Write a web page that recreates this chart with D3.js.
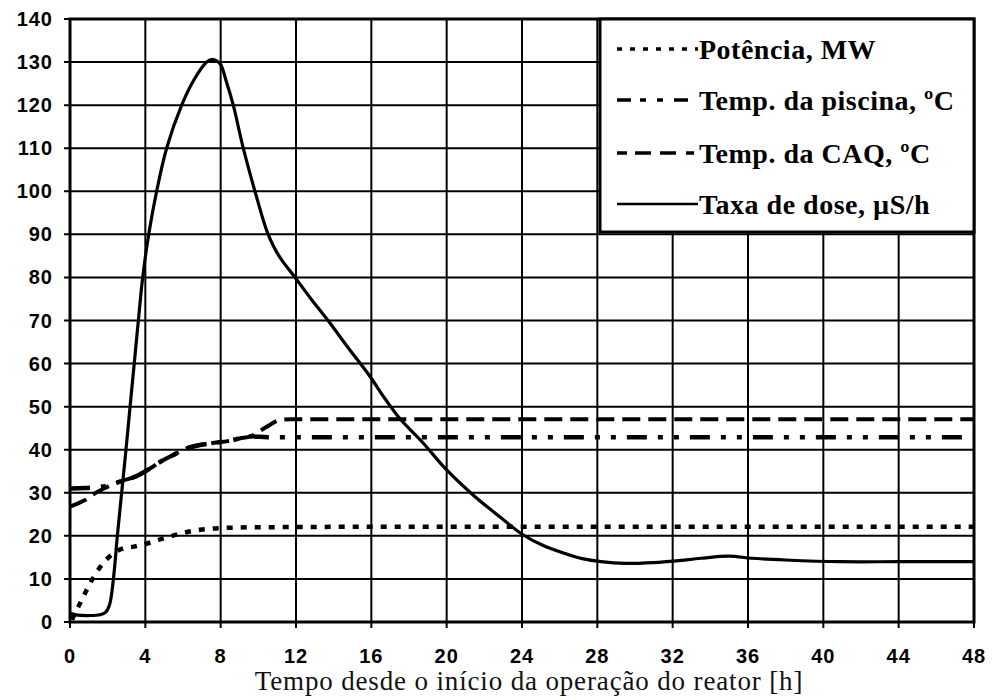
<!DOCTYPE html>
<html>
<head>
<meta charset="utf-8">
<script src="https://cdn.jsdelivr.net/npm/d3@7"></script>
<style>
  html, body { margin: 0; padding: 0; background: #fff; }
  svg { display: block; }
</style>
</head>
<body>
<svg id="chart" width="992" height="700"></svg>
<script>
// ---------- data ----------
const xTicks = [0, 4, 8, 12, 16, 20, 24, 28, 32, 36, 40, 44, 48];
const yTicks = [0, 10, 20, 30, 40, 50, 60, 70, 80, 90, 100, 110, 120, 130, 140];

const seriesNames = ["Potência, MW", "Temp. da piscina, ºC", "Temp. da CAQ, ºC", "Taxa de dose, µS/h"];

// [hours, value]
const power = [[0.1,0.5],[0.45,3.6],[0.8,6.7],[1.24,10.3],[1.68,13.2],[2.2,15.6],[2.83,17.1],[3.4,17.5],[3.9,18],[4.96,19.4],[5.93,20.6],[6.9,21.4],[7.97,21.8],[10,22],[16,22.1],[48,22.1]];
const poolTemp = [[0,31],[0.8,31.1],[1.5,31.3],[2.1,31.8],[2.8,32.8],[3.5,33.8],[4.2,35.5],[4.8,37.2],[5.5,38.8],[6.2,40.3],[6.9,41.1],[7.5,41.5],[8.5,42.1],[9,42.6],[9.6,43.1],[10.5,42.9],[12,42.9],[48,42.9]];
const caqTemp = [[0,26.8],[0.4,27.5],[0.8,28.3],[1.3,29.8],[1.8,31],[2.3,32],[2.8,32.8],[3.5,33.8],[4.2,35.5],[4.8,37.2],[5.5,38.8],[6.2,40.3],[6.9,41.1],[7.5,41.5],[8.5,42.1],[9,42.6],[9.6,43.1],[10.4,45.2],[11.1,46.8],[11.8,47.1],[48,47.1]];
const doseRate = [[0,2],[0.4,1.6],[1,1.5],[1.6,1.7],[1.9,2.3],[2.1,4],[2.3,9.8],[2.51,19.8],[2.74,29.9],[2.97,39.9],[3.19,50],[3.41,60],[3.63,70],[3.86,80],[4.18,90],[4.6,100],[5.13,110],[5.93,120],[6.6,126],[7.26,130],[7.6,130.6],[7.97,129.6],[8.3,125.5],[8.67,120],[9.2,110],[9.82,100],[10.45,90.8],[10.8,87.3],[11.2,84.3],[11.95,80],[12.8,75],[13.7,70],[14.8,63.5],[15.93,57],[16.7,52],[17.5,47.3],[18.76,41.5],[20,35.3],[21.4,29.5],[22.8,24.5],[24.07,20.2],[25.1,17.8],[26.2,16],[27.2,14.7],[28.2,14],[29.5,13.6],[31,13.8],[32.2,14.2],[33.5,14.8],[35,15.3],[36.2,14.8],[38,14.4],[40.9,14],[44,14],[48,14]];

const xTitle = "Tempo desde o início da operação do reator [h]";

// ---------- layout ----------
const svg = d3.select("#chart");
const x = d3.scaleLinear().domain([0, 48]).range([70, 974]);
const y = d3.scaleLinear().domain([0, 140]).range([622, 19]);

// grid
const g = svg.append("g");
g.selectAll("line.vg").data(xTicks).join("line")
  .attr("x1", d => x(d)).attr("x2", d => x(d))
  .attr("y1", y(0) + 6).attr("y2", y(140))
  .attr("stroke", "#000").attr("stroke-width", 2);
g.selectAll("line.hg").data(yTicks).join("line")
  .attr("x1", x(0) - 6).attr("x2", x(48))
  .attr("y1", d => y(d)).attr("y2", d => y(d))
  .attr("stroke", "#000").attr("stroke-width", 2);

// frame
svg.append("rect").attr("x", x(0)).attr("y", y(140))
  .attr("width", x(48) - x(0)).attr("height", y(0) - y(140))
  .attr("fill", "none").attr("stroke", "#000").attr("stroke-width", 3);

// axes labels
const tickFont = "'Liberation Sans', Arial, sans-serif";
svg.append("g").selectAll("text").data(yTicks).join("text")
  .attr("x", 53).attr("y", d => y(d) + 7)
  .attr("text-anchor", "end")
  .attr("font-family", tickFont).attr("font-weight", "bold")
  .attr("font-size", 20).attr("letter-spacing", "1px")
  .text(d => d);
svg.append("g").selectAll("text").data(xTicks).join("text")
  .attr("x", d => x(d)).attr("y", 663)
  .attr("text-anchor", "middle")
  .attr("font-family", tickFont).attr("font-weight", "bold")
  .attr("font-size", 20).attr("letter-spacing", "1px")
  .text(d => d);

svg.append("text").attr("x", 529).attr("y", 690)
  .attr("text-anchor", "middle")
  .attr("font-family", "'Liberation Serif', 'Times New Roman', serif")
  .attr("font-size", 27).attr("letter-spacing", "0.85px").attr("fill", "#111")
  .text(xTitle);

// lines
const smooth = d3.line().x(d => x(d[0])).y(d => y(d[1])).curve(d3.curveMonotoneX);
const smoothDose = d3.line().x(d => x(d[0])).y(d => y(d[1])).curve(d3.curveCatmullRom.alpha(0.5));
const styles = [
  { data: power,    dash: "6,8",                width: 4.5, gen: smooth },
  { data: poolTemp, dash: "20,11,5,11,5,11",    width: 4.5, gen: smooth },
  { data: caqTemp,  dash: "18,8",               width: 4,   gen: smooth },
  { data: doseRate, dash: null,                 width: 3.2, gen: smoothDose }
];
styles.forEach(s => {
  svg.append("path").datum(s.data)
    .attr("d", s.gen)
    .attr("fill", "none").attr("stroke", "#000")
    .attr("stroke-width", s.width)
    .attr("stroke-dasharray", s.dash);
});

// legend
const lg = svg.append("g");
lg.append("rect").attr("x", 600).attr("y", 19).attr("width", 374).attr("height", 213)
  .attr("fill", "#fff").attr("stroke", "#000").attr("stroke-width", 3);
const legendDash = ["5,8", "14,9,6,11,6,11,14", "10,8,16,9,16", null];
const rowY = [49, 100, 153, 204];
seriesNames.forEach((name, i) => {
  lg.append("line").attr("x1", 617).attr("x2", 698)
    .attr("y1", rowY[i]).attr("y2", rowY[i])
    .attr("stroke", "#000").attr("stroke-width", i === 3 ? 2.5 : 3.5)
    .attr("stroke-dasharray", legendDash[i]);
  lg.append("text").attr("x", 699).attr("y", rowY[i] + 10)
    .attr("font-family", "'Liberation Serif', 'Times New Roman', serif")
    .attr("font-weight", "bold").attr("font-size", 28).attr("letter-spacing", "0.5px").attr("fill", "#000")
    .text(name);
});
</script>
</body>
</html>
